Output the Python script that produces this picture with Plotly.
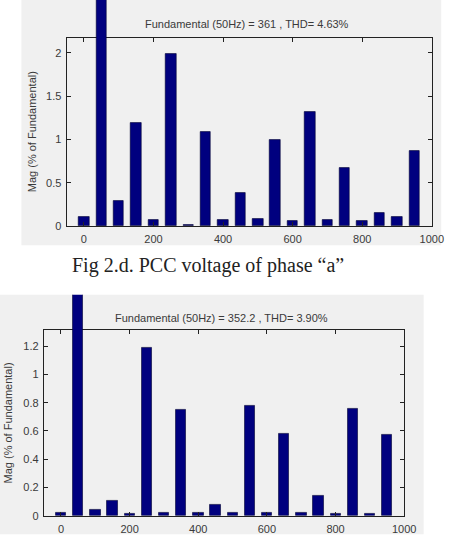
import plotly.graph_objects as go

W, H = 461, 557

# ---- data ----
freqs = [0, 50, 100, 150, 200, 250, 300, 350, 400, 450, 500, 550, 600, 650, 700, 750, 800, 850, 900, 950]
mag_a = [0.11, 100, 0.29, 1.19, 0.07, 1.98, 0.02, 1.09, 0.07, 0.38, 0.08, 1.00, 0.06, 1.32, 0.07, 0.67, 0.06, 0.15, 0.11, 0.87]
mag_b = [0.02, 100, 0.04, 0.105, 0.014, 1.19, 0.023, 0.75, 0.023, 0.077, 0.019, 0.78, 0.019, 0.58, 0.019, 0.145, 0.014, 0.76, 0.012, 0.57]
fund_freq = 50
title_a = "Fundamental (50Hz) = 361 , THD= 4.63%"
title_b = "Fundamental (50Hz) = 352.2 , THD= 3.90%"
caption_a = "Fig 2.d. PCC voltage of phase \u201ca\u201d"
ytitle = "Mag (% of Fundamental)"
yticks_a = [0, 0.5, 1, 1.5, 2]
yticklabels_a = ["0", "0.5", "1", "1.5", "2"]
yticks_b = [0, 0.2, 0.4, 0.6, 0.8, 1.0, 1.2]
yticklabels_b = ["0", "0.2", "0.4", "0.6", "0.8", "1", "1.2"]
xticks = [0, 200, 400, 600, 800, 1000]
xrange_ = [-50, 1000]
yrange_a = [0, 2.17]
yrange_b = [0, 1.317]

# ---- geometry helpers (pixels -> paper) ----
def px(x):
    return x / W

def py(y):
    return 1 - y / H

BAR = "#00007f"
EDGE = "#000033"
TXT = "#3a3a3a"
LINE = "#222222"
FONT = "Liberation Sans"

# plot areas in px
A = dict(l=68.3, r=443.3, t=38.3, b=228.7, top_clip=0)
B = dict(l=45.0, r=415.0, t=333.3, b=521.3, top_clip=298)

fig = go.Figure()

def add_chart(idx, geo, mags, yr, yt, ytl):
    n_main = 2 * idx - 1
    n_over = 2 * idx
    xa_main = "x" if n_main == 1 else f"x{n_main}"
    ya_main = "y" if n_main == 1 else f"y{n_main}"
    xa_over = f"x{n_over}"
    ya_over = f"y{n_over}"
    xdom = [px(geo["l"]), px(geo["r"])]
    ydom = [py(geo["b"]), py(geo["t"])]
    ydom_over = [py(geo["b"]), py(geo["top_clip"])]
    over_top = yr[1] * (ydom_over[1] - ydom_over[0]) / (ydom[1] - ydom[0])

    harm = [m if f != fund_freq else None for f, m in zip(freqs, mags)]
    fund = [m if f == fund_freq else None for f, m in zip(freqs, mags)]

    fig.add_trace(go.Bar(x=freqs, y=harm, width=30, marker=dict(color=BAR, line=dict(color=EDGE, width=0.6)),
                         xaxis=xa_main, yaxis=ya_main, showlegend=False, hoverinfo="skip"))
    fig.add_trace(go.Bar(x=freqs, y=fund, width=30, marker=dict(color=BAR, line=dict(color=EDGE, width=0.6)),
                         xaxis=xa_over, yaxis=ya_over, showlegend=False, hoverinfo="skip"))

    axcommon = dict(showline=True, linecolor=LINE, linewidth=1, mirror="ticks", ticks="inside",
                    ticklen=4, tickcolor=LINE, tickwidth=1, showgrid=False, zeroline=False,
                    tickfont=dict(family=FONT, size=11, color=TXT))
    lay = {}
    key = lambda a, n: a + ("axis" if n == 1 else f"axis{n}")
    lay[key("x", n_main)] = dict(domain=xdom, range=xrange_, tickvals=xticks, anchor=ya_main,
                                 ticklabelstandoff=3, **axcommon)
    lay[key("y", n_main)] = dict(domain=ydom, range=yr, tickvals=yt, ticktext=ytl, anchor=xa_main,
                                 ticklabelstandoff=2, **axcommon)
    lay[key("x", n_over)] = dict(domain=xdom, range=xrange_, visible=False, anchor=ya_over)
    lay[key("y", n_over)] = dict(domain=ydom_over, range=[0, over_top], visible=False, anchor=xa_over)
    fig.update_layout(**lay)

    # white plot area
    fig.add_shape(type="rect", xref=f"{xa_main} domain", yref=f"{ya_main} domain", x0=0, x1=1, y0=0, y1=1,
                  fillcolor="white", line=dict(width=0), layer="below")

add_chart(1, A, mag_a, yrange_a, yticks_a, yticklabels_a)
add_chart(2, B, mag_b, yrange_b, yticks_b, yticklabels_b)

# grey figure backgrounds
for (x0, x1, y0, y1) in [(22, 453, 0, 248), (0, 435, 298, 540)]:
    fig.add_shape(type="rect", xref="paper", yref="paper", x0=px(x0), x1=px(x1), y0=py(y1), y1=py(y0),
                  fillcolor="#f0f0f0", line=dict(width=0), layer="below")

ann = []
ann.append(dict(text=title_a, x=px(254), y=py(24), xref="paper", yref="paper", showarrow=False,
                font=dict(family=FONT, size=11, color=TXT), xanchor="center", yanchor="middle"))
ann.append(dict(text=title_b, x=px(227.5), y=py(321), xref="paper", yref="paper", showarrow=False,
                font=dict(family=FONT, size=11, color=TXT), xanchor="center", yanchor="middle"))
ann.append(dict(text=ytitle, x=px(33), y=py((A["t"] + A["b"]) / 2), xref="paper", yref="paper", showarrow=False,
                textangle=-90, font=dict(family=FONT, size=11, color=TXT), xanchor="center", yanchor="middle"))
ann.append(dict(text=ytitle, x=px(8), y=py((B["t"] + B["b"]) / 2), xref="paper", yref="paper", showarrow=False,
                textangle=-90, font=dict(family=FONT, size=11, color=TXT), xanchor="center", yanchor="middle"))
ann.append(dict(text=caption_a, x=px(214), y=py(268), xref="paper", yref="paper", showarrow=False,
                font=dict(family="Liberation Serif", size=20, color="#222"), xanchor="center", yanchor="middle"))

fig.update_layout(width=W, height=H, margin=dict(l=0, r=0, t=0, b=0), paper_bgcolor="white",
                  plot_bgcolor="rgba(0,0,0,0)", annotations=ann, bargap=0, showlegend=False)

fig.write_html("out.html", config={"displayModeBar": False})
